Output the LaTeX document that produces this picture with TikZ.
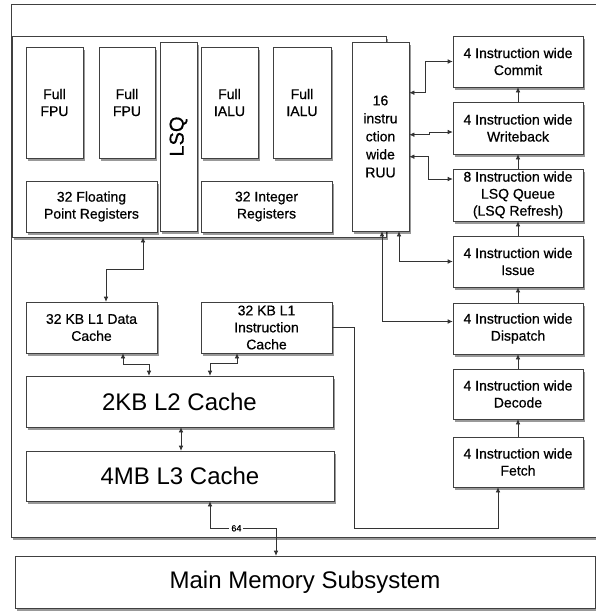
\documentclass[tikz,border=0pt]{standalone}
\usepackage{fontspec}
\setmainfont{Liberation Sans}
\newfontfamily\semibf[FakeBold=0.6]{Liberation Sans}
\usetikzlibrary{arrows.meta,shadows}
\begin{document}
\begin{tikzpicture}[x=1pt,y=-1pt,
  box/.style={draw=black!75, line width=0.6pt, fill=white, inner sep=0pt, align=center,
    drop shadow={shadow xshift=2pt, shadow yshift=-2.5pt, fill=black, opacity=0.4},
    font=\semibf\fontsize{14}{17}\selectfont},
  big/.style={font=\fontsize{24}{28}\selectfont},
  conn/.style={draw=black!80, line width=0.6pt},
  arr/.style={conn, -{Latex[length=5pt,width=4.5pt]}},
  dbl/.style={conn, {Latex[length=5pt,width=4.5pt]}-{Latex[length=5pt,width=4.5pt]}},
  lbl/.style={fill=white, inner sep=2pt, font=\semibf\fontsize{9}{10}\selectfont}
]
\clip (0,0) rectangle (596,611);
\fill[white] (0,0) rectangle (596,611);

% outer frame and core
\node[box, minimum width=591pt, minimum height=533pt] (frame) at (306.5,270.5) {};
\node[box, minimum width=374pt, minimum height=201pt] (core) at (199,136.5) {};

% execution units
\node[box, minimum width=57pt, minimum height=111pt] (fpu1) at (54.5,102.5) {Full\\FPU};
\node[box, minimum width=56pt, minimum height=111pt] (fpu2) at (127,102.5) {Full\\FPU};
\node[box, minimum width=37pt, minimum height=189pt] (lsq) at (178.5,136.5) {};
\node[rotate=90, font=\semibf\fontsize{20}{24}\selectfont] (lsqt) at (lsq.center) {LSQ};
\node[box, minimum width=57pt, minimum height=111pt] (ialu1) at (229.5,102.5) {Full\\IALU};
\node[box, minimum width=58pt, minimum height=111pt] (ialu2) at (302,102.5) {Full\\IALU};
\node[box, minimum width=131pt, minimum height=51pt] (fpr) at (91.5,206.5) {32 Floating\\Point Registers};
\node[box, minimum width=131pt, minimum height=51pt] (intr) at (266.5,206.5) {32 Integer\\Registers};
\node[box, minimum width=57pt, minimum height=189pt, font=\semibf\fontsize{14}{18}\selectfont] (ruu) at (380.5,136.5) {16\\instru\\ction\\wide\\RUU};

% pipeline
\node[box, minimum width=130pt, minimum height=51pt] (commit) at (518,61.5) {4 Instruction wide\\Commit};
\node[box, minimum width=130pt, minimum height=52pt] (wb) at (518,128) {4 Instruction wide\\Writeback};
\node[box, minimum width=130pt, minimum height=52pt] (lsqq) at (518,195) {8 Instruction wide\\LSQ Queue\\(LSQ Refresh)};
\node[box, minimum width=130pt, minimum height=51pt] (issue) at (518,261.5) {4 Instruction wide\\Issue};
\node[box, minimum width=130pt, minimum height=51pt] (dispatch) at (518,328.5) {4 Instruction wide\\Dispatch};
\node[box, minimum width=130pt, minimum height=50pt] (decode) at (518,394) {4 Instruction wide\\Decode};
\node[box, minimum width=130pt, minimum height=50pt] (fetch) at (518,462) {4 Instruction wide\\Fetch};

% caches
\node[box, minimum width=131pt, minimum height=51pt] (l1d) at (91.5,327.5) {32 KB L1 Data\\Cache};
\node[box, minimum width=131pt, minimum height=51pt] (l1i) at (266.5,327.5) {32 KB L1\\Instruction\\Cache};
\node[box, big, minimum width=307pt, minimum height=51pt] (l2) at (179.5,401.5) {2KB L2 Cache};
\node[box, big, minimum width=308pt, minimum height=50pt] (l3) at (180,476) {4MB L3 Cache};
\node[box, big, minimum width=580pt, minimum height=52pt] (mem) at (305,582) {Main Memory Subsystem};

% pipeline arrows
\draw[arr] (fetch) -- (decode);
\draw[arr] (decode) -- (dispatch);
\draw[arr] (dispatch) -- (issue);
\draw[arr] (issue) -- (lsqq);
\draw[arr] (lsqq) -- (wb);
\draw[arr] (wb) -- (commit);

% RUU connections
\draw[dbl] ([yshift=-51pt]ruu.north east) -- ++(16,0) |- (commit.west);
\draw[dbl] ([yshift=-93pt]ruu.north east) -- ++(20,0) |- ([yshift=-4pt]wb.west);
\draw[dbl] ([yshift=-115pt]ruu.north east) -- ++(19,0) |- ([yshift=16pt]lsqq.west);
\draw[dbl] ([xshift=18.5pt]ruu.south) |- (issue.west);
\draw[dbl] ([yshift=7pt]dispatch.west) -| ([xshift=1.5pt]ruu.south);

% cache connections
\draw[dbl] ([xshift=-56pt]core.south) -- ++(0,32) -| ([xshift=14.5pt]l1d.north);
\draw[dbl] ([xshift=31.5pt]l1d.south) -- ++(0,11) -| ([xshift=-30.5pt]l2.north);
\draw[dbl] ([xshift=30.5pt]l2.north) -- ++(0,-12) -| ([xshift=-29.5pt]l1i.south);
\draw[dbl] ([xshift=1.5pt]l2.south) -- ([xshift=1pt]l3.north);
\draw[dbl] ([xshift=30pt]l3.south) -- ++(0,27) -- node[lbl, pos=0.4] {64} ++(66,0) -- ([xshift=-29pt]mem.north);
\draw[arr] (l1i.east) -- ++(22,0) -- ++(0,200.5) -| ([xshift=-20pt]fetch.south);
\end{tikzpicture}
\end{document}
